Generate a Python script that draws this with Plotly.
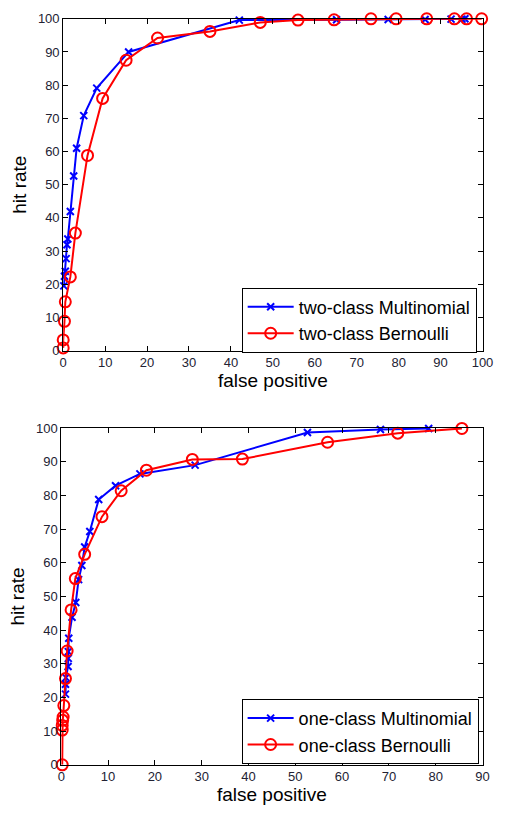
import plotly.graph_objects as go

# ---- data ----
top_mn_fp = [0.15, 0.3, 0.5, 0.7, 0.9, 1.1, 1.7, 2.5, 3.2, 4.9, 8.0, 15.6, 42.0, 65.2, 77.5, 86.3, 92.5, 95.1, 95.8]
top_mn_hr = [19.5, 22.4, 23.9, 27.7, 31.9, 33.6, 41.9, 52.6, 61.0, 70.8, 79.1, 90.0, 99.6, 99.7, 99.8, 99.8, 99.9, 99.9, 100]

top_bn_fp = [0, 0, 0.3, 0.5, 1.7, 2.9, 5.8, 9.4, 15.0, 22.5, 35.0, 47.0, 56.0, 64.6, 73.4, 79.4, 86.7, 93.3, 96.2, 99.8]
top_bn_hr = [0.8, 3.2, 8.8, 14.7, 22.2, 35.4, 58.8, 76.0, 87.5, 94.2, 96.2, 98.9, 99.6, 99.7, 100, 100, 100, 100, 100, 100]

bot_mn_fp = [0.9, 0.9, 1.0, 1.45, 1.5, 1.5, 1.6, 2.3, 3.1, 3.7, 4.4, 5.0, 6.1, 8.0, 11.6, 16.8, 28.6, 52.6, 68.2, 78.5]
bot_mn_hr = [21, 23.9, 25.9, 29.2, 31.6, 33.6, 37.6, 43.8, 48.2, 55, 59.2, 64.7, 69.3, 78.8, 82.9, 86.4, 89.0, 98.7, 99.6, 99.9]

bot_bn_fp = [0.2, 0.2, 0.2, 0.3, 0.4, 0.55, 0.9, 1.25, 2.1, 3.0, 5.0, 8.7, 12.8, 18.2, 28.0, 38.7, 56.9, 71.9, 85.6]
bot_bn_hr = [0, 10.3, 11.7, 13.2, 14.2, 17.6, 25.6, 33.8, 46, 55.3, 62.5, 73.7, 81.4, 87.5, 90.7, 90.8, 95.8, 98.5, 99.9]

top_names = ["two-class Multinomial", "two-class Bernoulli"]
bot_names = ["one-class Multinomial", "one-class Bernoulli"]

top_xticks = list(range(0, 101, 10))
bot_xticks = list(range(0, 91, 10))
yticks = list(range(0, 101, 10))

W, H = 510, 815
BLUE = "#0000ff"
RED = "#ff0000"
FONT = "Arial, Liberation Sans, sans-serif"

fig = go.Figure()

def add_pair(xa, ya, mfp, mhr, bfp, bhr, names, legend):
    fig.add_trace(go.Scatter(
        x=mfp, y=mhr, xaxis=xa, yaxis=ya, name=names[0], legend=legend,
        mode="lines+markers", cliponaxis=False,
        line=dict(color=BLUE, width=2),
        marker=dict(symbol="x-thin-open", size=7, line=dict(color=BLUE, width=2), color=BLUE),
    ))
    fig.add_trace(go.Scatter(
        x=bfp, y=bhr, xaxis=xa, yaxis=ya, name=names[1], legend=legend,
        mode="lines+markers", cliponaxis=False,
        line=dict(color=RED, width=2),
        marker=dict(symbol="circle-open", size=11, line=dict(color=RED, width=2), color=RED),
    ))

add_pair("x", "y", top_mn_fp, top_mn_hr, top_bn_fp, top_bn_hr, top_names, "legend")
add_pair("x2", "y2", bot_mn_fp, bot_mn_hr, bot_bn_fp, bot_bn_hr, bot_names, "legend2")

tickfont = dict(family=FONT, size=13, color="#222233")
titlefont = dict(family=FONT, size=19, color="black")

def ax_common(**kw):
    d = dict(showline=True, linecolor="black", linewidth=1, mirror="ticks",
             ticks="inside", ticklen=5, tickcolor="black", showgrid=False,
             zeroline=False, tickfont=tickfont, title_font=titlefont)
    d.update(kw)
    return d

legfont = dict(family=FONT, size=18, color="black")

fig.update_layout(
    width=W, height=H,
    margin=dict(l=0, r=0, t=0, b=0),
    paper_bgcolor="white", plot_bgcolor="white",
    xaxis=ax_common(domain=[61 / W, 493 / W], range=[0, 100], tickvals=top_xticks,
                    anchor="y", title=dict(text="false positive", standoff=4)),
    yaxis=ax_common(domain=[1 - 350 / H, 1 - 12 / H], range=[0, 100], tickvals=yticks,
                    anchor="x", title=dict(text="hit rate", standoff=6)),
    xaxis2=ax_common(domain=[59 / W, 493 / W], range=[0, 90], tickvals=bot_xticks,
                     anchor="y2", title=dict(text="false positive", standoff=4)),
    yaxis2=ax_common(domain=[1 - 772 / H, 1 - 429 / H], range=[0, 100], tickvals=yticks,
                     anchor="x2", title=dict(text="hit rate", standoff=6)),
    legend=dict(x=487 / W, xanchor="right", y=1 - 319 / H, yanchor="middle",
                bgcolor="white", bordercolor="black", borderwidth=1,
                font=legfont, tracegroupgap=0, itemwidth=46),
    legend2=dict(x=489 / W, xanchor="right", y=1 - 738 / H, yanchor="middle",
                 bgcolor="white", bordercolor="black", borderwidth=1,
                 font=legfont, tracegroupgap=0, itemwidth=46),
    showlegend=True,
)

fig.write_html("out.html")
